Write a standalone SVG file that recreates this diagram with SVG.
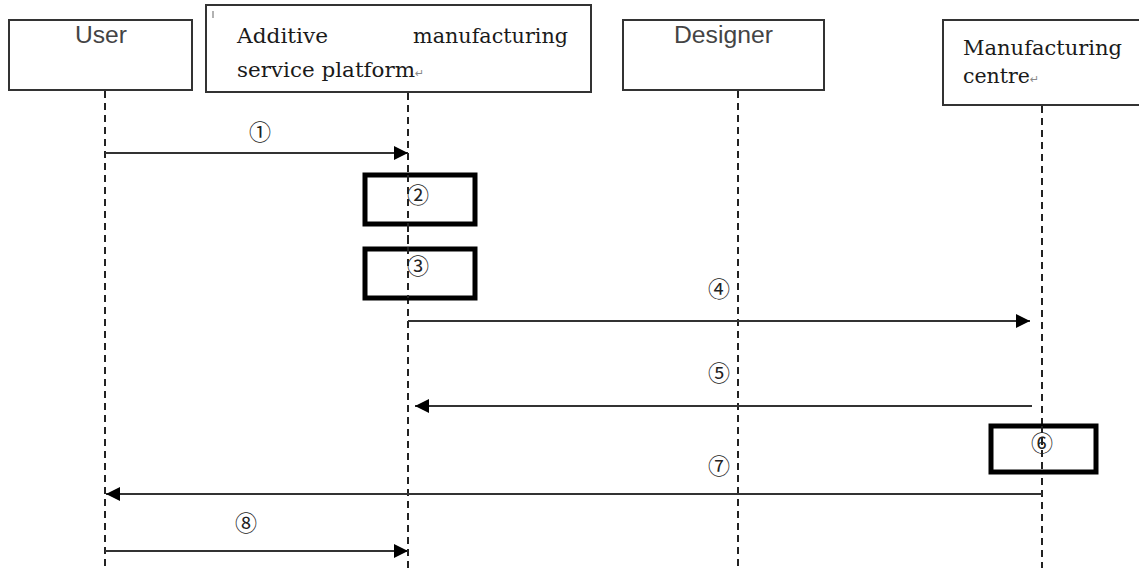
<svg xmlns="http://www.w3.org/2000/svg" width="1139" height="568" viewBox="0 0 1139 568">
<style>
.box{fill:#fff;stroke:#333;stroke-width:2}
.act{fill:#fff;stroke:#000;stroke-width:5}
.life{stroke:#222;stroke-width:2;stroke-dasharray:7 5;fill:none}
.msg{stroke:#333;stroke-width:2;fill:none}
.sans{font-family:"Liberation Sans",Arial,sans-serif;font-size:23px;fill:#444}
.serif{font-family:"DejaVu Serif","Liberation Serif",serif;font-size:21px;fill:#1a1a1a}
.num{font-family:"Noto Sans CJK SC","DejaVu Sans",sans-serif;font-size:22px;fill:#222;text-anchor:middle}
.pm{font-family:"DejaVu Sans",sans-serif;font-size:11px;fill:#888}
</style>
<defs>
<marker id="ah" markerWidth="14" markerHeight="14" refX="14" refY="7" orient="auto" markerUnits="userSpaceOnUse">
<path d="M0,0 L14,7 L0,14 z" fill="#000"/>
</marker>
</defs>
<rect width="1139" height="568" fill="#fff"/>
<g id="lifelines">
<line class="life" x1="105" y1="91" x2="105" y2="568"/>
<line class="life" x1="408" y1="93" x2="408" y2="568"/>
<line class="life" x1="738" y1="91" x2="738" y2="568"/>
<line class="life" x1="1042" y1="106" x2="1042" y2="568"/>
</g>
<g id="user">
<rect class="box" x="9" y="20" width="183" height="70"/>
<text class="sans" x="75" y="43" textLength="52" lengthAdjust="spacingAndGlyphs">User</text>
</g>
<g id="platform">
<rect class="box" x="206" y="5" width="385" height="87"/>
<line x1="213" y1="11" x2="213" y2="18" stroke="#999" stroke-width="1.5"/>
<text class="serif" x="237" y="43" textLength="91" lengthAdjust="spacingAndGlyphs">Additive</text>
<text class="serif" x="413" y="43" textLength="155" lengthAdjust="spacingAndGlyphs">manufacturing</text>
<text class="serif" x="237" y="77" textLength="178" lengthAdjust="spacingAndGlyphs">service platform</text>
<text class="pm" x="415" y="77">↵</text>
</g>
<g id="designer">
<rect class="box" x="623" y="20" width="201" height="70"/>
<text class="sans" x="674" y="43" textLength="99" lengthAdjust="spacingAndGlyphs">Designer</text>
</g>
<g id="manufacturing">
<rect class="box" x="943" y="20" width="210" height="85"/>
<text class="serif" x="963" y="55" textLength="159" lengthAdjust="spacingAndGlyphs">Manufacturing</text>
<text class="serif" x="963" y="83" textLength="67" lengthAdjust="spacingAndGlyphs">centre</text>
<text class="pm" x="1030" y="83">↵</text>
</g>
<g id="activations">
<rect class="act" x="365" y="175" width="110" height="49"/>
<rect class="act" x="365" y="249" width="110" height="49"/>
<rect class="act" x="991" y="426" width="105" height="46"/>
<line class="life" x1="408" y1="175" x2="408" y2="298"/>
<line class="life" x1="1042" y1="426" x2="1042" y2="472"/>
</g>
<g id="connectors">
<line class="msg" x1="105" y1="153" x2="408" y2="153" marker-end="url(#ah)"/>
<line class="msg" x1="408" y1="321" x2="1030" y2="321" marker-end="url(#ah)"/>
<line class="msg" x1="1032" y1="406" x2="415" y2="406" marker-end="url(#ah)"/>
<line class="msg" x1="1042" y1="494" x2="106" y2="494" marker-end="url(#ah)"/>
<line class="msg" x1="105" y1="551" x2="408" y2="551" marker-end="url(#ah)"/>
</g>
<g id="labels">
<text class="num" x="260" y="140">①</text>
<text class="num" x="418" y="203">②</text>
<text class="num" x="418" y="274">③</text>
<text class="num" x="719" y="297">④</text>
<text class="num" x="719" y="381">⑤</text>
<text class="num" x="1042" y="451">⑥</text>
<text class="num" x="719" y="474">⑦</text>
<text class="num" x="246" y="531">⑧</text>
</g>
</svg>
